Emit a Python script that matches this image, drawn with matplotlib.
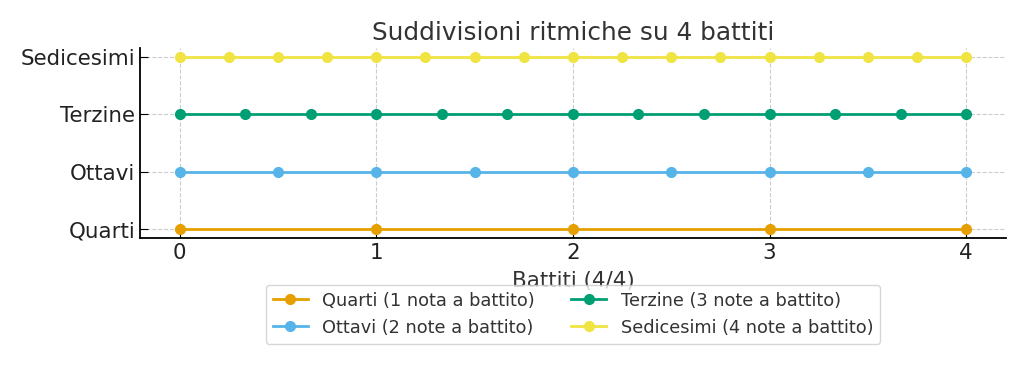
import numpy as np
import matplotlib.pyplot as plt

# dati
livelli = ["Quarti", "Ottavi", "Terzine", "Sedicesimi"]
etichette = ["Quarti (1 nota a battito)", "Ottavi (2 note a battito)",
             "Terzine (3 note a battito)", "Sedicesimi (4 note a battito)"]
note_per_battito = [1, 2, 3, 4]
battiti = 4
colori = ["#E69F00", "#56B4E9", "#009E73", "#F0E442"]


def main():
    fig = plt.figure(figsize=(10.24, 3.84), dpi=100)
    ax = fig.add_axes([0.137, 0.38, 0.845, 0.495])

    for i, n in enumerate(note_per_battito):
        x = np.arange(battiti * n + 1) / n
        ax.plot(x, [i] * len(x), marker="o", markersize=7, linewidth=2,
                color=colori[i], label=etichette[i])

    ax.set_yticks(range(len(livelli)))
    ax.set_yticklabels(livelli)
    ax.set_xticks(range(battiti + 1))
    ax.tick_params(direction="in", labelsize=15.4, length=6, labelcolor="#222222")
    ax.grid(True, linestyle="--", color="#cccccc", linewidth=0.8)
    ax.spines["top"].set_visible(False)
    ax.spines["right"].set_visible(False)
    ax.spines["left"].set_linewidth(1.3)
    ax.spines["bottom"].set_linewidth(1.3)

    ax.set_xlabel("Battiti (4/4)", fontsize=15.4, color="#333333", labelpad=6)
    ax.set_title("Suddivisioni ritmiche su 4 battiti", fontsize=17.8, color="#333333")
    leg = ax.legend(loc="upper center", bbox_to_anchor=(0.5, -0.198), ncol=2,
                    fontsize=12.8, labelcolor="#333333", columnspacing=2.0)
    leg.set_zorder(5)

    fig.savefig("out.png", dpi=100)


if __name__ == "__main__":
    main()
